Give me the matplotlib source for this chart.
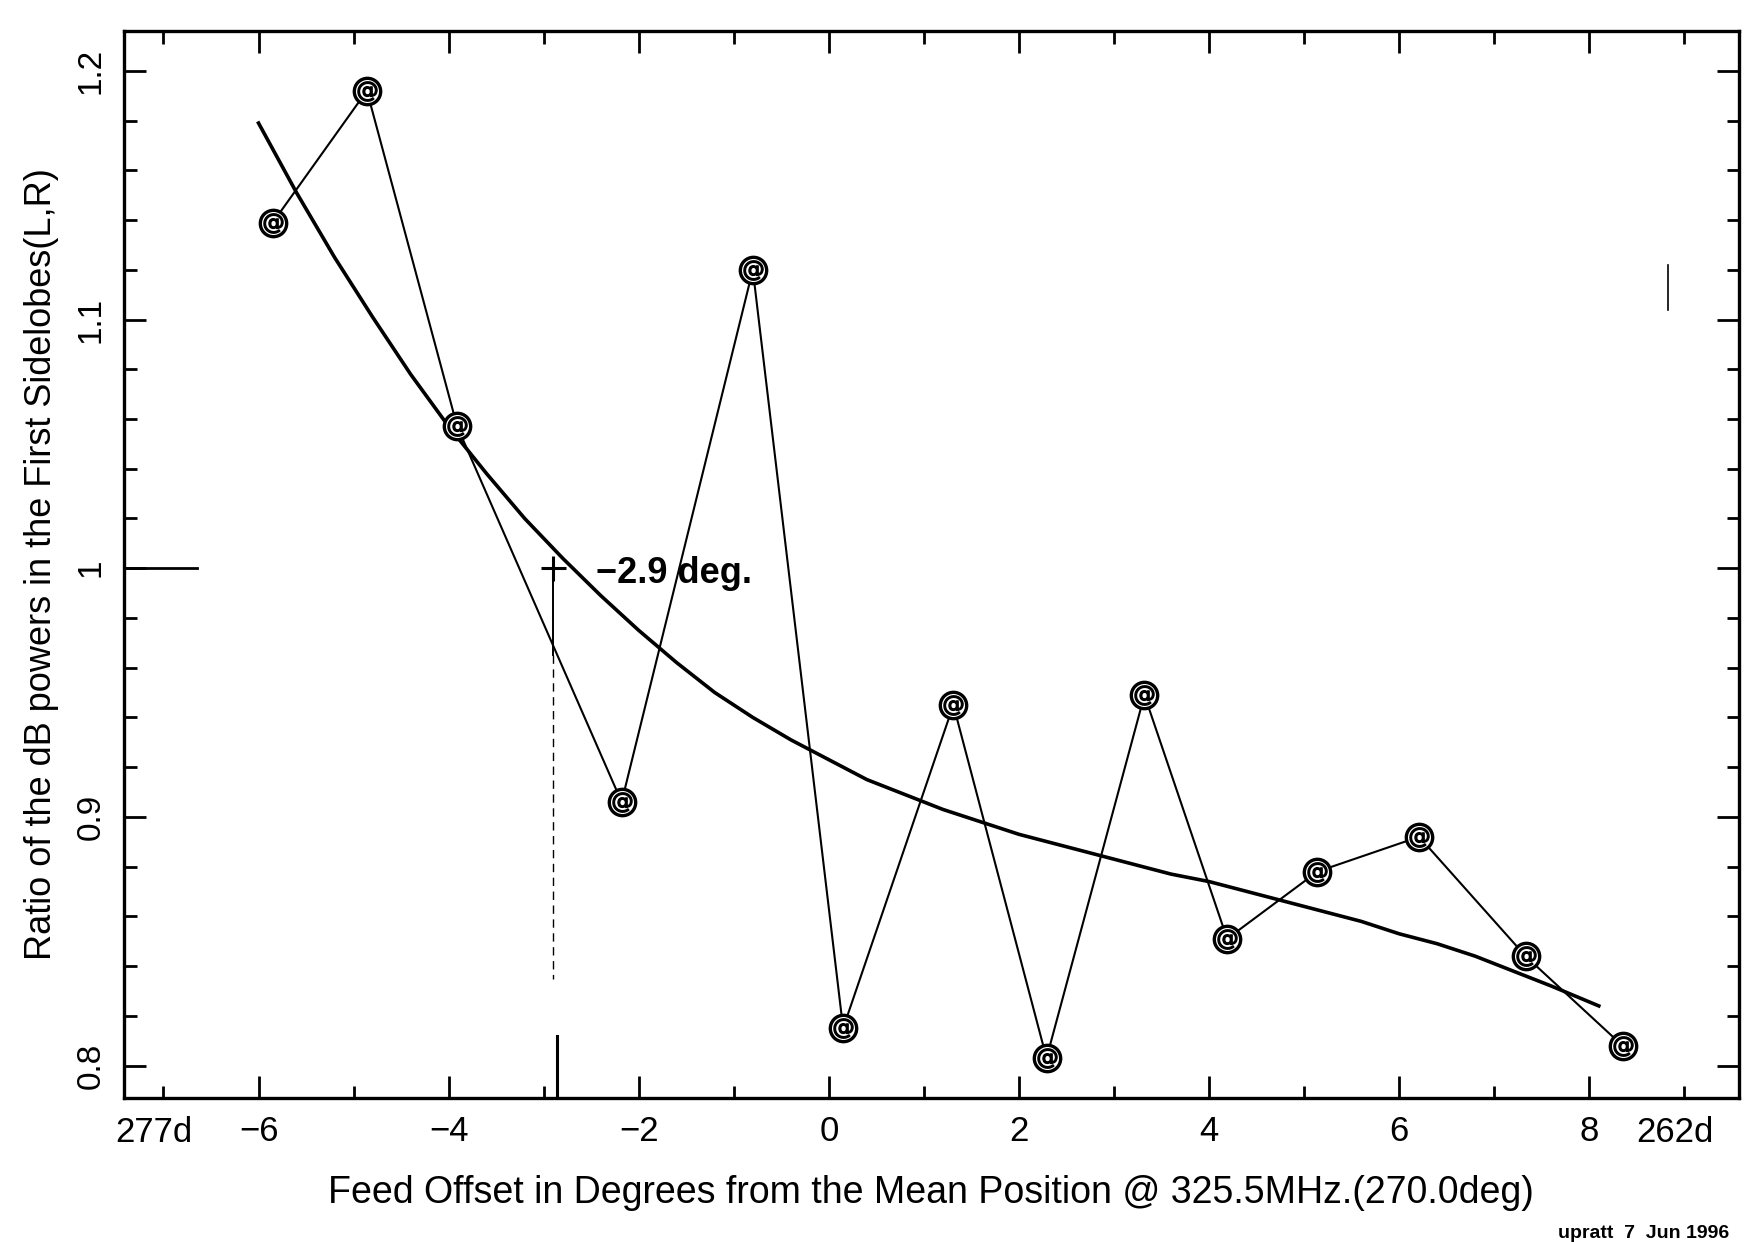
import numpy as np
import matplotlib
matplotlib.use('Agg')
import matplotlib.pyplot as plt
from matplotlib.ticker import MultipleLocator, FixedLocator

plt.rcParams['font.family'] = ['Liberation Sans', 'DejaVu Sans']

# measured points (feed offset, ratio of first sidelobe powers)
offset = [-5.85, -4.86, -3.91, -2.18, -0.80, 0.15, 1.31, 2.29, 3.32, 4.19, 5.14, 6.21, 7.33, 8.35]
ratio = [1.139, 1.192, 1.057, 0.906, 1.120, 0.815, 0.945, 0.803, 0.949, 0.851, 0.878, 0.892, 0.844, 0.808]

# fitted curve
fit_x = [-6.0, -5.6, -5.2, -4.8, -4.4, -4.0, -3.6, -3.2, -2.8, -2.4, -2.0, -1.6, -1.2,
         -0.8, -0.4, 0.0, 0.4, 0.8, 1.2, 1.6, 2.0, 2.4, 2.8, 3.2, 3.6, 4.0, 4.4,
         4.8, 5.2, 5.6, 6.0, 6.4, 6.8, 7.2, 7.6, 8.1]
fit_y = [1.179, 1.151, 1.125, 1.101, 1.078, 1.057, 1.038, 1.020, 1.004, 0.989, 0.975,
         0.962, 0.950, 0.940, 0.931, 0.923, 0.915, 0.909, 0.903, 0.898, 0.893, 0.889,
         0.885, 0.881, 0.877, 0.874, 0.870, 0.866, 0.862, 0.858, 0.853, 0.849, 0.844,
         0.838, 0.832, 0.824]

cross_x = -2.9
cross_y = 1.0

xticks = [-6, -4, -2, 0, 2, 4, 6, 8]
yticks = [0.8, 0.9, 1.0, 1.1, 1.2]
yticklabels = ['0.8', '0.9', '1', '1.1', '1.2']

fig = plt.figure(figsize=(17.65, 12.42), dpi=100)
ax = fig.add_axes([0.070, 0.116, 0.915, 0.859])

ax.plot(offset, ratio, color='black', lw=1.5, zorder=2)
ax.plot(fit_x, fit_y, color='black', lw=2.6, zorder=2, solid_joinstyle='round')
ax.plot(offset, ratio, ls='none', marker='o', ms=19, mfc='white', mec='black', mew=2.4, zorder=3)
ax.plot(offset, ratio, ls='none', marker='$@$', ms=14, color='black', zorder=4)

# crossing mark
ax.plot([cross_x], [cross_y], marker='+', ms=18, mew=2.2, color='black', zorder=4)
ax.plot([cross_x, cross_x], [cross_y, 0.965], color='black', lw=1.4)
ax.plot([cross_x, cross_x], [0.965, 0.835], color='black', lw=1.0, ls=(0, (6, 4)))
ax.plot([cross_x + 0.04, cross_x + 0.04], [0.786, 0.812], color='black', lw=2.2)
ax.text(-2.45, 0.998, '\u22122.9 deg.', fontsize=26, weight='bold', va='center', ha='left')

# reference marks
ax.plot([-7.42, -6.65], [1.0, 1.0], color='black', lw=2.0)
ax.plot([8.83, 8.83], [1.104, 1.122], color='black', lw=1.2)

ax.set_xlim(-7.42, 9.57)
ax.set_ylim(0.787, 1.216)

ax.xaxis.set_major_locator(FixedLocator(xticks))
ax.xaxis.set_minor_locator(MultipleLocator(1))
ax.yaxis.set_major_locator(FixedLocator(yticks))
ax.yaxis.set_minor_locator(MultipleLocator(0.02))
ax.set_xticklabels([str(t).replace('-', '\u2212') for t in xticks], fontsize=25)
ax.set_yticklabels(yticklabels, fontsize=24, rotation=90, va='center')

ax.tick_params(which='both', direction='in', top=True, right=True, width=2.0)
ax.tick_params(which='major', length=16, pad=12)
ax.tick_params(which='minor', length=9)
for s in ax.spines.values():
    s.set_linewidth(2.4)

ax.text(-7.1, -0.0165, '277d', fontsize=25, ha='center', va='top',
        transform=ax.get_xaxis_transform())
ax.text(8.9, -0.0165, '262d', fontsize=25, ha='center', va='top',
        transform=ax.get_xaxis_transform())

ax.set_xlabel('Feed Offset in Degrees from the Mean Position @ 325.5MHz.(270.0deg)',
              fontsize=27, labelpad=20)
ax.set_ylabel('Ratio of the dB powers in the First Sidelobes(L,R)', fontsize=26, labelpad=12)

fig.text(0.883, 0.0, 'upratt  7  Jun 1996', fontsize=14, ha='left', va='bottom', weight='bold')

fig.savefig('out.png', dpi=100)
